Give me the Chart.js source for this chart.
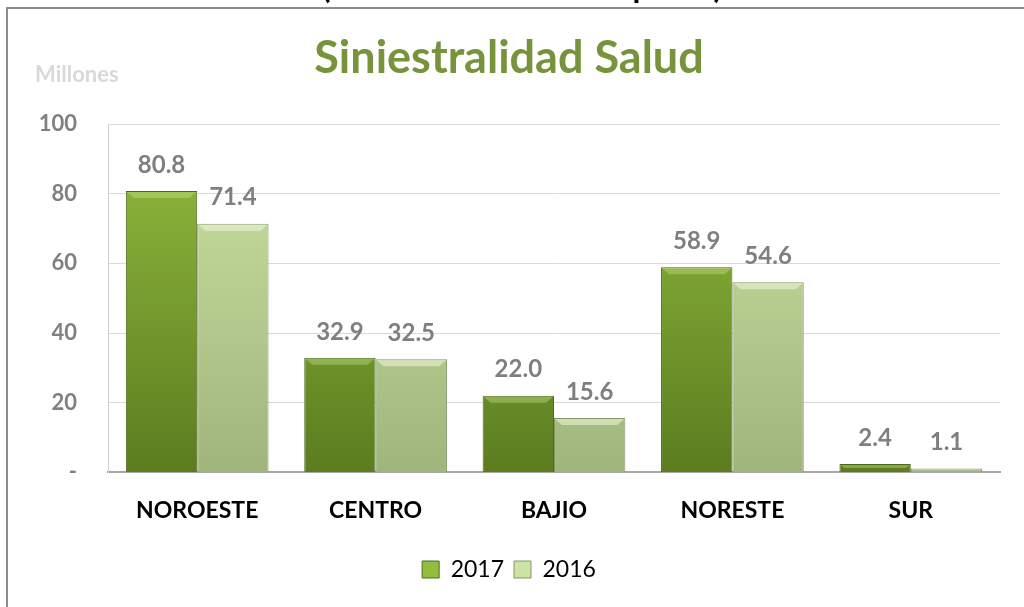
<!DOCTYPE html>
<html>
<head>
<meta charset="utf-8">
<script src="https://cdn.jsdelivr.net/npm/chart.js@4/dist/chart.umd.min.js"></script>
<style>
  html, body { margin: 0; padding: 0; background: #fff; }
</style>
</head>
<body>
<canvas id="chart" width="1024" height="607"></canvas>
<script>
const regions = ['NOROESTE', 'CENTRO', 'BAJIO', 'NORESTE', 'SUR']
const values2017 = [80.8, 32.9, 22.0, 58.9, 2.4]
const values2016 = [71.4, 32.5, 15.6, 54.6, 1.1]
const yTicks = [0, 20, 40, 60, 80, 100]

const fontName = 'Lato, "Open Sans", sans-serif'
const darkGreen = ['#93bd3f', '#5c7c1f']
const lightGreen = ['#cde3a3', '#9fb57c']

const barGradient = (colors) => (ctx) => {
  const chart = ctx.chart
  const area = chart.chartArea
  if (!area) return colors[0]
  const g = chart.ctx.createLinearGradient(0, area.top, 0, area.bottom)
  g.addColorStop(0, colors[0])
  g.addColorStop(1, colors[1])
  return g
}

// top bevel + value labels on each bar
const barExtras = {
  id: 'barExtras',
  afterDatasetsDraw(chart) {
    const ctx = chart.ctx
    chart.data.datasets.forEach((ds, i) => {
      const meta = chart.getDatasetMeta(i)
      meta.data.forEach((bar, j) => {
        const left = bar.x - bar.width / 2
        const right = bar.x + bar.width / 2
        const h = Math.min(7, (bar.base - bar.y) / 2)
        ctx.save()
        ctx.fillStyle = i === 0 ? 'rgba(200,230,140,0.4)' : 'rgba(240,250,220,0.55)'
        ctx.beginPath()
        ctx.moveTo(left + 1, bar.y + 1)
        ctx.lineTo(right - 1, bar.y + 1)
        ctx.lineTo(right - 1 - h, bar.y + h)
        ctx.lineTo(left + 1 + h, bar.y + h)
        ctx.closePath()
        ctx.fill()
        ctx.restore()

        ctx.save()
        ctx.font = 'bold 24px ' + fontName
        ctx.fillStyle = '#7f7f7f'
        ctx.textAlign = 'center'
        ctx.textBaseline = 'middle'
        ctx.fillText(ds.data[j].toFixed(1), bar.x, bar.y - 26)
        ctx.restore()
      })
    })
  },
  afterDraw(chart) {
    const ctx = chart.ctx
    ctx.save()
    // outer frame
    ctx.strokeStyle = '#8c8c8c'
    ctx.lineWidth = 2
    ctx.beginPath()
    ctx.moveTo(7, 640)
    ctx.lineTo(7, 8)
    ctx.lineTo(1040, 8)
    ctx.stroke()
    // cut-off heading above frame
    ctx.font = 'bold 32px ' + fontName
    ctx.fillStyle = '#000'
    ctx.textAlign = 'center'
    ctx.textBaseline = 'alphabetic'
    ctx.fillText('(Cifras en millones de pesos)', 522, -2)
    // unit label
    ctx.font = 'bold 22px ' + fontName
    ctx.fillStyle = '#d9d9d9'
    ctx.textAlign = 'left'
    ctx.textBaseline = 'middle'
    ctx.fillText('Millones', 35, 75)
    ctx.restore()
  }
}

new Chart(document.getElementById('chart'), {
  type: 'bar',
  data: {
    labels: regions,
    datasets: [
      {
        label: '2017',
        data: values2017,
        backgroundColor: barGradient(darkGreen),
        borderColor: '#4f6a1c',
        borderWidth: 1,
        categoryPercentage: 0.8,
        barPercentage: 1.0
      },
      {
        label: '2016',
        data: values2016,
        backgroundColor: barGradient(lightGreen),
        borderColor: '#84986a',
        borderWidth: 1,
        categoryPercentage: 0.8,
        barPercentage: 1.0
      }
    ]
  },
  options: {
    responsive: false,
    animation: false,
    layout: { padding: { left: 18, right: 24, top: 0, bottom: 16 } },
    plugins: {
      title: {
        display: true,
        text: 'Siniestralidad Salud',
        color: '#77933c',
        font: { family: fontName, size: 45, weight: 'bold' },
        padding: { top: 31, bottom: 39 }
      },
      legend: {
        position: 'bottom',
        labels: {
          color: '#000',
          font: { family: fontName, size: 23 },
          boxWidth: 17,
          boxHeight: 17,
          padding: 10,
          generateLabels(chart) {
            const fills = [darkGreen[0], lightGreen[0]]
            const strokes = ['#4f6a1c', '#84986a']
            return chart.data.datasets.map((ds, i) => ({
              text: ds.label,
              fillStyle: fills[i],
              strokeStyle: strokes[i],
              lineWidth: 1,
              datasetIndex: i,
              fontColor: '#000'
            }))
          }
        }
      },
      tooltip: { enabled: false }
    },
    scales: {
      x: {
        grid: { display: false, drawTicks: false },
        border: { color: '#a6a6a6', width: 2 },
        ticks: {
          color: '#000',
          font: { family: fontName, size: 23, weight: 'bold' },
          padding: 24
        }
      },
      y: {
        min: 0,
        max: 100,
        afterBuildTicks(scale) {
          scale.ticks = yTicks.map(v => ({ value: v }))
        },
        afterFit(scale) { scale.width = 90 },
        grid: { color: '#d9d9d9', drawTicks: false },
        border: { color: '#d0d0d0' },
        ticks: {
          color: '#808080',
          font: { family: fontName, size: 22, weight: 'bold' },
          padding: 31,
          callback: (v) => v === 0 ? '-' : v
        }
      }
    }
  },
  plugins: [barExtras]
})
</script>
</body>
</html>
